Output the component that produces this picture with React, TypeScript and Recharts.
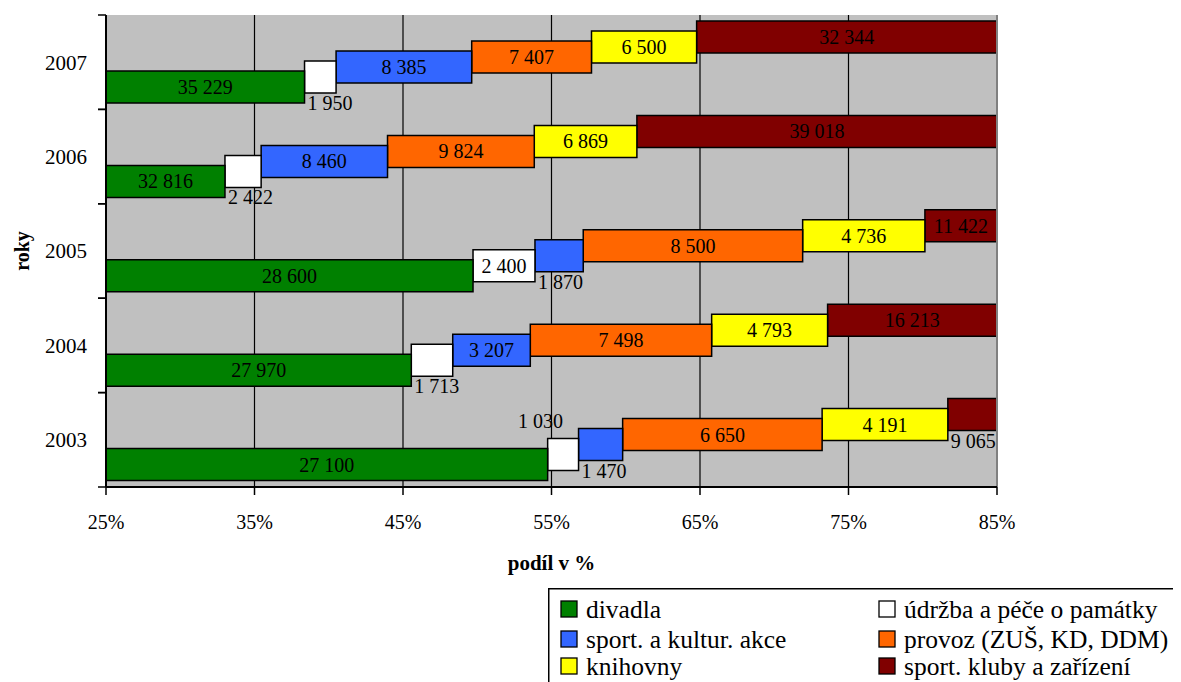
import React from 'react';
import { BarChart, Bar, XAxis, YAxis, CartesianGrid, LabelList, ReferenceLine } from 'recharts';

// ---------- data ----------
const years = ['2007', '2006', '2005', '2004', '2003'];
const divadla = [35229, 32816, 28600, 27970, 27100];
const udrzba = [1950, 2422, 2400, 1713, 1030];
const sportAkce = [8385, 8460, 1870, 3207, 1470];
const provoz = [7407, 9824, 8500, 7498, 6650];
const knihovny = [6500, 6869, 4736, 4793, 4191];
const sportKluby = [32344, 39018, 11422, 16213, 9065];
const xTicks = [25, 35, 45, 55, 65, 75, 85];

const series = [
  { key: 'divadla', name: 'divadla', values: divadla, color: '#008000' },
  { key: 'udrzba', name: 'údržba a péče o památky', values: udrzba, color: '#FFFFFF' },
  { key: 'sportAkce', name: 'sport. a kultur. akce', values: sportAkce, color: '#3366FF' },
  { key: 'provoz', name: 'provoz (ZUŠ, KD, DDM)', values: provoz, color: '#FF6600' },
  { key: 'knihovny', name: 'knihovny', values: knihovny, color: '#FFFF00' },
  { key: 'sportKluby', name: 'sport. kluby a zařízení', values: sportKluby, color: '#800000' },
];

// table for the chart: raw values and cumulative percentage ranges (100 % stacked)
const rows = years.map((year, i) => {
  const total = series.reduce((s, d) => s + d.values[i], 0);
  const row: any = { year };
  let cum = 0;
  series.forEach((d) => {
    const v = d.values[i];
    const start = (cum / total) * 100;
    cum += v;
    row[d.key] = v;
    row[d.key + 'Range'] = [start, (cum / total) * 100];
  });
  return row;
});

// ---------- layout / style ----------
const FONT = 'Liberation Serif, Times New Roman, Times, serif';
const W = 1173;
const H = 674;
const MARGIN = { top: 7, right: 184, bottom: 105, left: 0 };
const Y_W = 98;
const X_H = 90;
const PLOT_LEFT = MARGIN.left + Y_W;
const PLOT_RIGHT = W - MARGIN.right;
const PLOT_TOP = MARGIN.top;
const PLOT_BOTTOM = H - MARGIN.bottom - X_H;
const BAND = (PLOT_BOTTOM - PLOT_TOP) / years.length;

const labelAbove: Record<string, boolean> = { 'udrzba:2003': true };

const fmt = (v: number) => String(v).replace(/\B(?=(\d{3})+(?!\d))/g, ' ');

const txt = { fontFamily: FONT, fill: '#000' };

const makeLabel = (key: string) => (props: any) => {
  const vb = props.viewBox && props.viewBox.width !== undefined ? props.viewBox : props;
  const x = Number(vb.x);
  const y = Number(vb.y);
  const width = Number(vb.width);
  const height = Number(vb.height);
  const value = props.value;
  const index = props.index;
  if (value === undefined || value === null || isNaN(x)) return null;
  const left = Math.max(x, PLOT_LEFT);
  const right = Math.min(x + width, PLOT_RIGHT);
  const vis = right - left;
  const text = fmt(Number(value));
  const style = { ...txt, fontSize: 20 };
  if (labelAbove[`${key}:${years[index]}`]) {
    return (
      <text x={left + vis / 2} y={y - 11} textAnchor="end" style={style}>
        {text}
      </text>
    );
  }
  if (vis < 50) {
    return (
      <text x={left + 3} y={y + height + 17} textAnchor="start" style={style}>
        {text}
      </text>
    );
  }
  return (
    <text x={left + vis / 2} y={y + height / 2} dy="0.35em" textAnchor="middle" style={style}>
      {text}
    </text>
  );
};

const YTick = (props: any) => {
  const { y, payload } = props;
  const half = BAND / 2;
  return (
    <g>
      <line x1={PLOT_LEFT - 8} x2={PLOT_LEFT} y1={y - half} y2={y - half} stroke="#000" strokeWidth={1.5} />
      <line x1={PLOT_LEFT - 8} x2={PLOT_LEFT} y1={y + half} y2={y + half} stroke="#000" strokeWidth={1.5} />
      <text x={PLOT_LEFT - 19} y={y} dy="0.35em" textAnchor="end" style={{ ...txt, fontSize: 21 }}>
        {payload.value}
      </text>
    </g>
  );
};

const XTick = (props: any) => {
  const { x, y, payload } = props;
  return (
    <text x={x} y={y} dy="0.71em" textAnchor="middle" style={{ ...txt, fontSize: 20 }}>
      {`${payload.value}%`}
    </text>
  );
};

const legendCols = [13, 331];
const legendRows = [30, 60, 87];

const LegendBox = () => (
  <div style={{ position: 'absolute', left: 540, top: 580 }}>
    <svg width={640} height={100}>
      <rect x={0.75} y={0.75} width={800} height={200} fill="#fff" stroke="#000" strokeWidth={1.5} />
      {series.map((s, i) => {
        const cx = legendCols[i % 2];
        const by = legendRows[Math.floor(i / 2)];
        return (
          <g key={s.key}>
            <rect x={cx} y={by - 17} width={16} height={16} fill={s.color} stroke="#000" strokeWidth={1.3} />
            <text x={cx + 25} y={by} style={{ ...txt, fontSize: 25.5 }}>
              {s.name}
            </text>
          </g>
        );
      })}
    </svg>
  </div>
);

export default function App() {
  return (
    <div style={{ position: 'relative', width: W, height: H, overflow: 'hidden', fontFamily: FONT }}>
      <BarChart
        width={W}
        height={H}
        data={rows}
        layout="vertical"
        margin={MARGIN}
        barSize={32}
        barGap={-22}
        style={{ fontFamily: FONT }}
      >
        <CartesianGrid horizontal={false} stroke="#000" strokeWidth={1.2} fill="#C0C0C0" fillOpacity={1} />
        <XAxis
          type="number"
          domain={[25, 85]}
          allowDataOverflow
          ticks={xTicks}
          interval={0}
          height={X_H}
          tickSize={8}
          tickMargin={20}
          axisLine={{ stroke: '#000', strokeWidth: 2 }}
          tickLine={{ stroke: '#000', strokeWidth: 1.5 }}
          tick={<XTick />}
          label={{
            value: 'podíl v %',
            position: 'insideBottom',
            offset: 7,
            style: { fontSize: 21, fontWeight: 'bold', fill: '#000', fontFamily: FONT },
          }}
        />
        <XAxis
          xAxisId="top"
          orientation="top"
          type="number"
          domain={[25, 85]}
          allowDataOverflow
          height={0}
          tick={false}
          tickLine={false}
          axisLine={{ stroke: '#808080', strokeWidth: 2 }}
        />
        <YAxis
          type="category"
          dataKey="year"
          width={Y_W}
          interval={0}
          tickLine={false}
          axisLine={{ stroke: '#000', strokeWidth: 2 }}
          tick={<YTick />}
          label={{
            value: 'roky',
            angle: -90,
            position: 'insideLeft',
            offset: 14,
            style: { textAnchor: 'middle', fontSize: 20, fontWeight: 'bold', fill: '#000', fontFamily: FONT },
          }}
        />
        <ReferenceLine x={85} stroke="#808080" strokeWidth={2} />
        {[...series].reverse().map((s) => (
          <Bar
            key={s.key}
            dataKey={s.key + 'Range'}
            name={s.name}
            fill={s.color}
            stroke="#000"
            strokeWidth={1.5}
            isAnimationActive={false}
          >
            <LabelList dataKey={s.key} content={makeLabel(s.key)} />
          </Bar>
        ))}
      </BarChart>
      <LegendBox />
    </div>
  );
}
